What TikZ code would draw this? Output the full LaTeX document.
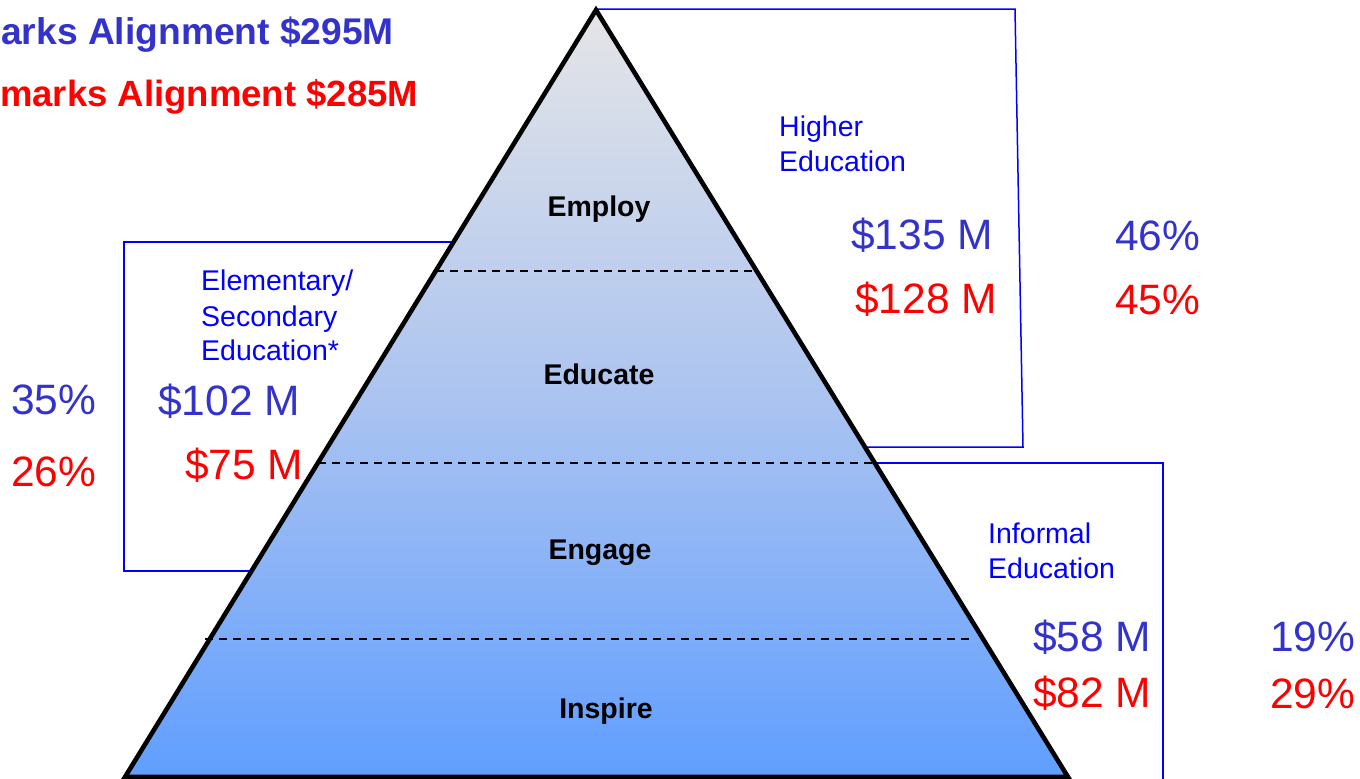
\documentclass[tikz,border=0pt]{standalone}
\usepackage{fontspec}
\setmainfont{Liberation Sans}
\definecolor{pblue}{RGB}{0,0,255}
\definecolor{mblue}{RGB}{51,51,204}
\definecolor{pred}{RGB}{255,0,0}
\definecolor{ptop}{RGB}{229,229,231}
\definecolor{pmid}{RGB}{172,196,240}
\definecolor{pbot}{RGB}{96,158,255}
\begin{document}
\begin{tikzpicture}[x=1pt,y=-1pt,
  titletext/.style={anchor=base west,inner sep=0pt,font=\bfseries\fontsize{36.5}{42}\selectfont},
  lvl/.style={anchor=base,inner sep=0pt,font=\bfseries\fontsize{28.5}{34}\selectfont,text=black},
  cat/.style={anchor=base west,inner sep=0pt,font=\fontsize{28.5}{34}\selectfont,text=pblue},
  amt/.style={anchor=base west,inner sep=0pt,font=\fontsize{42.5}{48}\selectfont},
  boxline/.style={draw=pblue,line width=1.5pt},
  divider/.style={draw=black,line width=1.9pt,dash pattern=on 8pt off 6pt}]
\useasboundingbox (0,0) rectangle (1360,779);
\clip (0,0) rectangle (1360,779);
% boxes behind the pyramid
\draw[boxline] (596,9) -- (1015,9) -- (1023,447) -- (596,447) -- cycle;
\draw[boxline] (560,242) -- (124,242) -- (124,571) -- (560,571) -- cycle;
\draw[boxline] (700,463) -- (1163,463) -- (1163,800) -- (700,800) -- cycle;
% pyramid
\coordinate (apex) at (596,10);
\coordinate (bl) at (125,777);
\coordinate (br) at (1068,777);
\shade[top color=ptop,bottom color=pbot,middle color=pmid] (apex) -- (bl) -- (br) -- cycle;
\coordinate (d1a) at (436,271); \coordinate (d1b) at (756,271);
\coordinate (d2a) at (318,463); \coordinate (d2b) at (875,463);
\coordinate (d3a) at (205,639); \coordinate (d3b) at (972,639);
\draw[divider] (d1a) -- (d1b);
\draw[divider] (d2a) -- (d2b);
\draw[divider] (d3a) -- (d3b);
\draw[line width=4.6pt,line join=miter] (apex) -- (bl) -- (br) -- cycle;
% titles
\node[titletext,text=mblue,font=\bfseries\fontsize{37.2}{42}\selectfont] (t1) at (1,44) {arks Alignment \$295M};
\node[titletext,text=pred] (t2) at (0,106) {marks Alignment \$285M};
% levels
\node[lvl] (employ) at (599,216) {Employ};
\node[lvl] (educate) at (599,384) {Educate};
\node[lvl] (engage) at (600,559) {Engage};
\node[lvl] (inspire) at (606,718) {Inspire};
% higher education
\node[cat] (he1) at (779,136) {Higher};
\node[cat] (he2) at (779,171) {Education};
\node[amt,text=mblue] (he3) at (851,249) {\$135 M};
\node[amt,text=pred] (he4) at (855,313) {\$128 M};
\node[amt,text=mblue] (he5) at (1115,250) {46\%};
\node[amt,text=pred] (he6) at (1115,314) {45\%};
% elementary / secondary
\node[cat] (es1) at (201,290) {Elementary/};
\node[cat] (es2) at (201,326) {Secondary};
\node[cat] (es3) at (201,360) {Education*};
\node[amt,text=mblue] (es4) at (158,415) {\$102 M};
\node[amt,text=pred] (es5) at (185,479) {\$75 M};
\node[amt,text=mblue] (es6) at (11,414) {35\%};
\node[amt,text=pred] (es7) at (11,486) {26\%};
% informal
\node[cat] (if1) at (988,543) {Informal};
\node[cat] (if2) at (988,578) {Education};
\node[amt,text=mblue] (if3) at (1033,651) {\$58 M};
\node[amt,text=pred] (if4) at (1033,707) {\$82 M};
\node[amt,text=mblue] (if5) at (1270,651) {19\%};
\node[amt,text=pred] (if6) at (1270,708) {29\%};
\end{tikzpicture}
\end{document}
